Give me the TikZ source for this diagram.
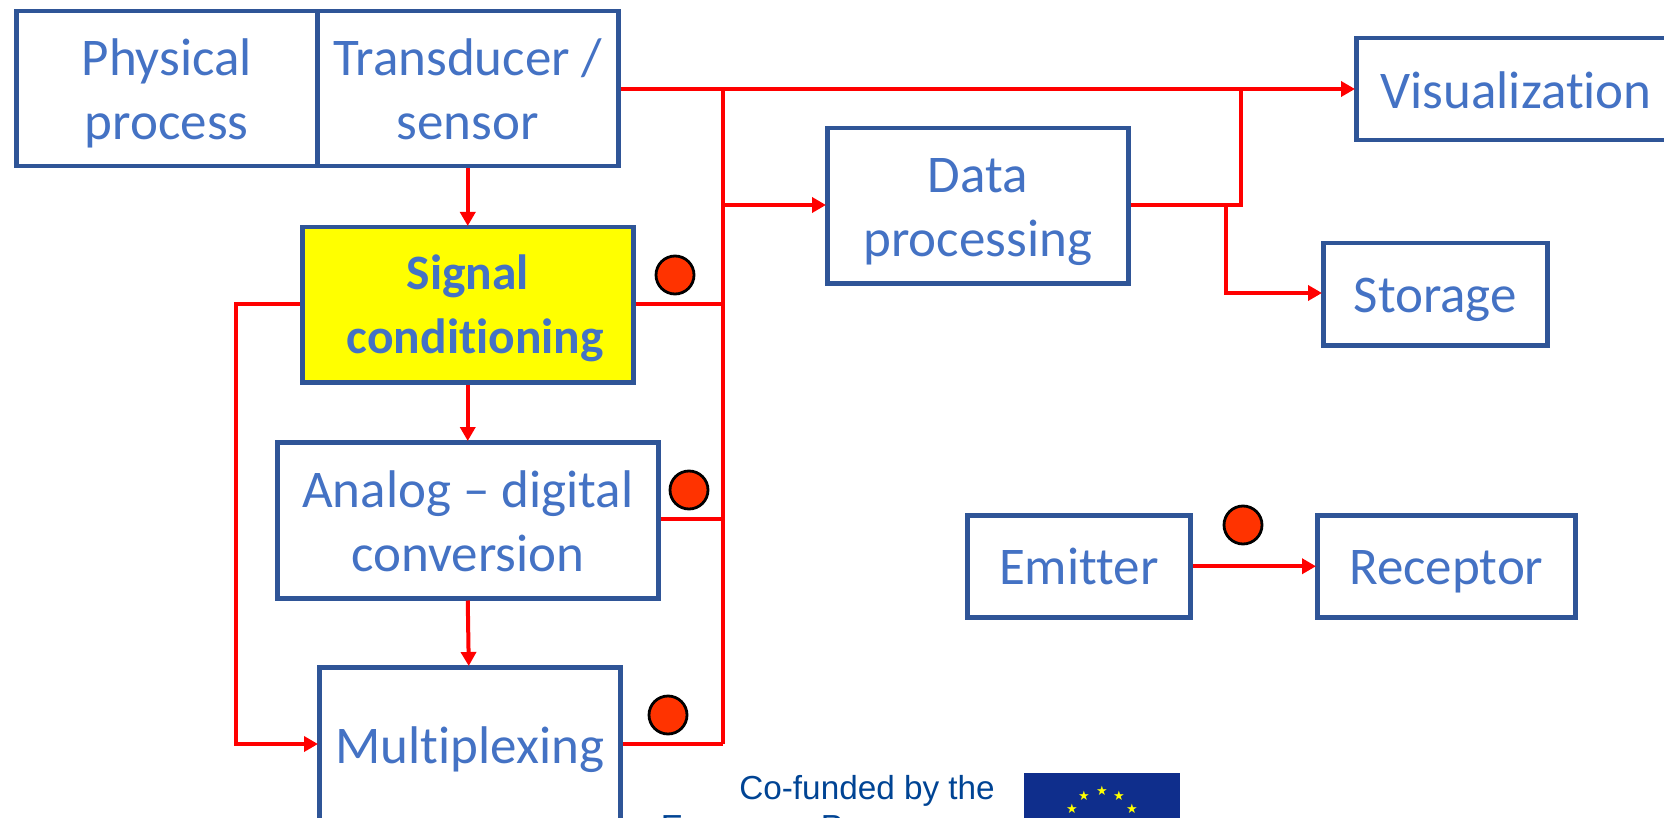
\documentclass[tikz,border=0pt]{standalone}
\usepackage{fontspec}
\setmainfont[Ligatures=NoCommon]{Carlito}
\newfontfamily\arialf{Liberation Sans}
\newfontfamily\starf{DejaVu Sans}
\usetikzlibrary{arrows.meta,positioning,calc}
\definecolor{boxline}{HTML}{2F5597}
\definecolor{boxtext}{HTML}{4472C4}
\definecolor{redline}{HTML}{FF0000}
\definecolor{dotfill}{HTML}{FF3300}
\definecolor{eublue}{HTML}{0F2E8C}
\definecolor{eutext}{HTML}{004494}
\definecolor{sigfill}{HTML}{FFFF00}
\definecolor{staryellow}{HTML}{FFFF00}
\newcommand{\oneln}{\rule[-14pt]{0pt}{64pt}}
\newcommand{\twoln}{\rule[-13pt]{0pt}{64pt}}
\newcommand{\boldln}{\rule[-15pt]{0pt}{64pt}}
\tikzset{
 x=1pt,y=-1pt,
 blockbox/.style={draw=boxline,line width=4.5pt,fill=white,text=boxtext,align=center,font=\fontsize{53}{64}\selectfont,inner sep=0pt,anchor=north west},
 wire/.style={draw=redline,line width=4pt},
 arrowwire/.style={wire,-{Triangle[length=14pt,width=15pt]},shorten >=-1pt},
 marker/.style={circle,draw=black,line width=2.8pt,fill=dotfill,minimum size=38pt,inner sep=0pt},
}
\begin{document}
\begin{tikzpicture}
\useasboundingbox (0,0) rectangle (1664,818);
\begin{scope}
\clip (0,0) rectangle (1664,818);
\fill[white] (0,0) rectangle (1664,818);
\node[blockbox,minimum width=301pt,minimum height=155pt] (phys) at (14,9) {\twoln Physical\\\twoln process};
\node[blockbox,minimum width=301pt,minimum height=155pt] (trans) at (315,9) {\twoln Transducer /\\\twoln sensor};
\node[blockbox,minimum width=331pt,minimum height=155pt,fill=sigfill,font=\fontsize{49.5}{64}\selectfont\bfseries] (sig) at (300,225) {\boldln Signal\\\boldln\hspace*{15pt}conditioning};
\node[blockbox,minimum width=381pt,minimum height=156pt] (adc) at (275,440) {\twoln Analog -- digital\\\twoln conversion};
\node[blockbox,minimum width=301pt,minimum height=156pt] (mux) at (317,665) {\oneln Multiplexing};
\node[blockbox,minimum width=301pt,minimum height=155pt] (data) at (825,126) {\twoln Data\\\twoln processing};
\node[blockbox,minimum width=320pt,minimum height=102pt] (vis) at (1354,36) {\rule[-13pt]{0pt}{64pt}Visualization};
\node[blockbox,minimum width=224pt,minimum height=102pt] (stor) at (1321,241) {\oneln Storage};
\node[blockbox,minimum width=223pt,minimum height=102pt] (emit) at (965,513) {\oneln Emitter};
\node[blockbox,minimum width=258pt,minimum height=102pt] (recv) at (1315,513) {\oneln Receptor};
\coordinate (j1) at (723,89);
\coordinate (j2) at (723,205);
\coordinate (j3) at (723,304);
\coordinate (j4) at (723,519);
\coordinate (j5) at (723,744);
\coordinate (l1) at (236,304);
\coordinate (l2) at (236,744);
\coordinate (r1) at (1241,89);
\coordinate (r2) at (1241,205);
\coordinate (s1) at (1226,205);
\coordinate (s2) at (1226,293);
\draw[arrowwire] (trans.east |- j1) -- (vis.west |- j1);
\draw[wire] (j1) -- (j5);
\draw[arrowwire] (j2) -- (data.west |- j2);
\draw[wire] (sig.east |- j3) -- (j3);
\draw[wire] (adc.east |- j4) -- (j4);
\draw[wire] (mux.east |- j5) -- (j5);
\draw[arrowwire] (sig.west |- l1) -- (l1) -- (l2) -- (mux.west |- l2);
\draw[wire] (data.east |- r2) -- (r2) -- (r1);
\draw[arrowwire] (s1) -- (s2) -- (stor.west |- s2);
\draw[arrowwire] (trans.south -| sig.north) -- (sig.north);
\draw[arrowwire] (sig.south) -- (adc.north -| sig.south);
\draw[arrowwire] (adc.south -| sig.south) -- ($(mux.north -| sig.south)+(1,0)$);
\draw[arrowwire] (emit.east) -- (recv.west);
\node[marker] (d1) at (675,275) {};
\node[marker] (d2) at (689,490) {};
\node[marker] (d3) at (668,715) {};
\node[marker] (d4) at (1243,525) {};
\node[anchor=base east,text=eutext,font=\arialf\fontsize{33.3}{33.3}\selectfont,inner sep=0pt] (cof) at (995,799) {Co-funded by the};
\node[anchor=base east,text=eutext,font=\arialf\fontsize{33.3}{33.3}\selectfont,inner sep=0pt] (eu) at (995,838) {Erasmus+ Programme};
\fill[eublue] (1024,773) rectangle (1180,860);
\foreach \px/\py in {1084/796,1102/791,1119/796,1072/809,1132/809}
  \node[text=staryellow,font=\starf\fontsize{13}{13}\selectfont,inner sep=0pt] at (\px,\py) {★};
\end{scope}
\end{tikzpicture}
\end{document}
